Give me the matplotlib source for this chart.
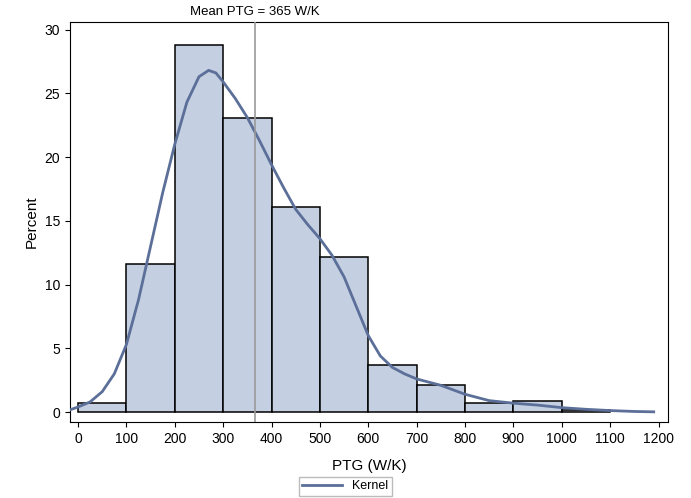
import numpy as np
import matplotlib.pyplot as plt

plt.rcParams['font.family'] = ['Liberation Sans', 'DejaVu Sans']

bin_edges = [0, 100, 200, 300, 400, 500, 600, 700, 800, 900, 1000, 1100]
percent = [0.7, 11.6, 28.8, 23.1, 16.1, 12.2, 3.7, 2.1, 0.7, 0.9, 0.2]

kde_x = [-15, 0, 25, 50, 75, 100, 125, 150, 175, 200, 225, 250, 270, 285, 300, 325, 350, 375,
         400, 425, 450, 475, 500, 525, 550, 575, 600, 625, 650, 675, 700, 750, 800, 850,
         900, 950, 1000, 1050, 1100, 1150, 1190]
kde_y = [0.2, 0.4, 0.8, 1.6, 3.0, 5.3, 8.8, 13.0, 17.2, 21.0, 24.3, 26.3, 26.8, 26.6, 25.9, 24.6,
         23.1, 21.3, 19.4, 17.6, 15.9, 14.7, 13.6, 12.3, 10.6, 8.3, 6.0, 4.4, 3.5, 3.0,
         2.6, 2.1, 1.4, 0.9, 0.7, 0.55, 0.35, 0.22, 0.12, 0.05, 0.02]

mean_ptg = 365

fig = plt.figure(figsize=(6.91, 4.98), dpi=100)
ax = fig.add_axes([0.101, 0.152, 0.866, 0.804])

ax.bar(bin_edges[:-1], percent, width=100, align='edge', color='#c5cfe2',
       edgecolor='black', linewidth=1.1, zorder=2)
ax.plot(kde_x, kde_y, color='#5b6f99', linewidth=2, zorder=3, label='Kernel')
ax.axvline(mean_ptg, color='#999999', linewidth=1.2, zorder=4)
ax.text(mean_ptg, 30.9, f'Mean PTG = {mean_ptg} W/K', ha='center', va='bottom', fontsize=9.5)

ax.set_xlim(-17, 1220)
ax.set_ylim(-0.8, 30.6)
ax.set_xticks(range(0, 1201, 100))
ax.set_yticks(range(0, 31, 5))
ax.tick_params(labelsize=10)
ax.set_xlabel('PTG (W/K)', fontsize=11, labelpad=9)
ax.set_ylabel('Percent', fontsize=11)

fig.legend(loc='lower center', bbox_to_anchor=(0.5, 0.004), frameon=True, fancybox=False,
           edgecolor='#aaaaaa', fontsize=9, handlelength=3.2, borderpad=0.3,
           borderaxespad=0)

fig.savefig('out.png', dpi=100)
